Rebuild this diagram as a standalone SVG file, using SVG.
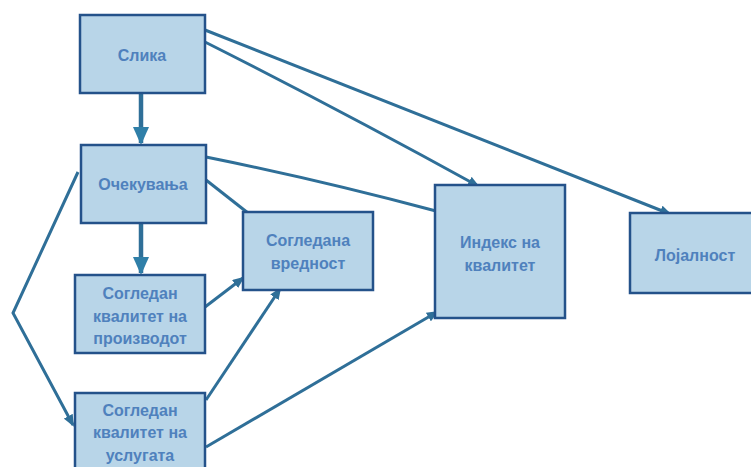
<svg xmlns="http://www.w3.org/2000/svg" width="751" height="467" viewBox="0 0 751 467">
<style>
.box{fill:#b8d5e8;stroke:#24528a;stroke-width:2.5}
.t{font-family:"Liberation Sans",Arial,sans-serif;font-weight:bold;font-size:16px;fill:#4f81bd;text-anchor:middle}
.c{fill:none;stroke:#2f6f98;stroke-width:3}
.k{fill:none;stroke:#2f6f98;stroke-width:4.5}
</style>
<defs>
<marker id="a" markerUnits="userSpaceOnUse" markerWidth="12" markerHeight="10" refX="10" refY="5" orient="auto"><path d="M0,0 L12,5 L0,10 Z" fill="#2f6f98"/></marker>
<marker id="b" markerUnits="userSpaceOnUse" markerWidth="18" markerHeight="16" refX="16" refY="8" orient="auto"><path d="M0,0 L18,8 L0,16 Z" fill="#2f7fa8"/></marker>
</defs>
<rect width="751" height="467" fill="#fff"/>
<g id="connectors">
<path class="c" d="M205,30 Q430,120 670,214" marker-end="url(#a)"/>
<path class="c" d="M205,42 Q340,110 478,186" marker-end="url(#a)"/>
<path class="c" d="M206,157 Q320,180 436,211"/>
<path class="c" d="M206,180 L248,213"/>
<path class="k" d="M141,93 L141,143" marker-end="url(#b)"/>
<path class="k" d="M141,223 L141,273" marker-end="url(#b)"/>
<path class="c" d="M78,172 L13,313 L73,425" marker-end="url(#a)"/>
<path class="c" d="M205,307 L243,278" marker-end="url(#a)"/>
<path class="c" d="M206,400 L280,289" marker-end="url(#a)"/>
<path class="c" d="M206,447 L437,312" marker-end="url(#a)"/>
</g>
<g id="n-slika"><rect class="box" x="80" y="15" width="125" height="78"/><text class="t" x="142" y="61">Слика</text></g>
<g id="n-ocekuvanja"><rect class="box" x="81" y="145" width="125" height="78"/><text class="t" x="143" y="190">Очекувања</text></g>
<g id="n-vrednost"><rect class="box" x="243" y="212" width="130" height="78"/><text class="t" x="308" y="246">Согледана</text><text class="t" x="308" y="269">вредност</text></g>
<g id="n-proizvod"><rect class="box" x="75" y="275" width="130" height="78"/><text class="t" x="140" y="299">Согледан</text><text class="t" x="140" y="322">квалитет на</text><text class="t" x="140" y="344">производот</text></g>
<g id="n-usluga"><rect class="box" x="75" y="393" width="130" height="90"/><text class="t" x="140" y="416">Согледан</text><text class="t" x="140" y="438">квалитет на</text><text class="t" x="140" y="461">услугата</text></g>
<g id="n-indeks"><rect class="box" x="435" y="185" width="130" height="133"/><text class="t" x="500" y="248">Индекс на</text><text class="t" x="500" y="271">квалитет</text></g>
<g id="n-lojalnost"><rect class="box" x="630" y="213" width="130" height="80"/><text class="t" x="695" y="261">Лојалност</text></g>
</svg>
